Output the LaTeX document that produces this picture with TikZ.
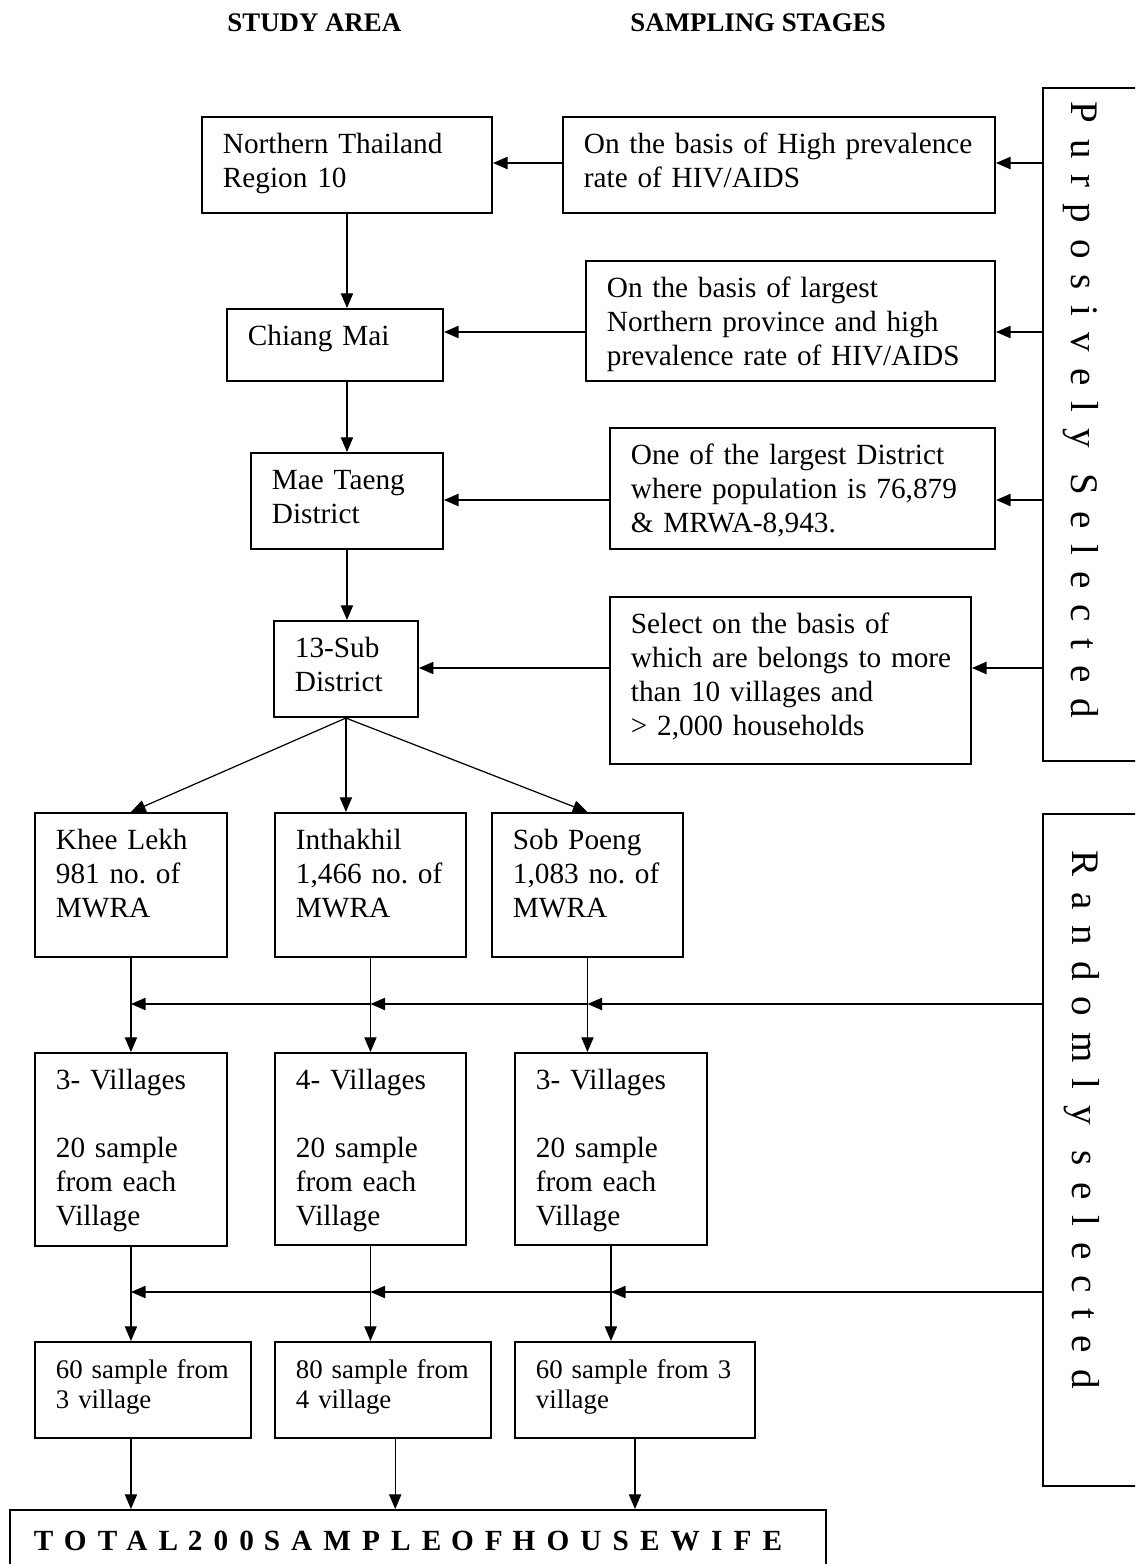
\documentclass[tikz,border=0pt]{standalone}
\usepackage{fontspec}
\setmainfont{Liberation Serif}
\usepackage{tikz}
\usetikzlibrary{arrows.meta}

\begin{document}
\begin{tikzpicture}[
  x=0.41pt, y=-0.41pt,
  box/.style={draw, line width=0.8pt, anchor=north west, align=left,
    inner xsep=8.6pt, inner ysep=7pt, text height=8pt,
    font=\fontsize{12}{13.9}\selectfont\frenchspacing},
  small/.style={font=\fontsize{11}{12.3}\selectfont\frenchspacing},
  side/.style={draw, line width=0.8pt, anchor=north west, inner sep=0pt,
    minimum width=44.3pt},
  vtext/.style={anchor=base west, rotate=-90, inner sep=0pt,
    font=\fontsize{16}{19}\selectfont\addfontfeature{LetterSpace=41}},
  head/.style={anchor=base west, inner sep=0pt,
    font=\fontsize{11}{13}\selectfont\bfseries},
  arr/.style={-{Triangle[length=6pt,width=5pt]}, line width=0.5pt},
  harr/.style={arr, line width=0.7pt}
]
\clip (0,0) rectangle (1135,1564);

\node[head] (hstudy) at (227,32) {STUDY AREA};
\node[head] (hstage) at (630,32) {SAMPLING STAGES};

% study area
\node[box, text width=101.7pt, text depth=17.4pt] (nt) at (201,116) {Northern Thailand\\Region 10};
\node[box, text width=71.4pt, text depth=7.5pt] (cm) at (226,308) {Chiang Mai};
\node[box, text width=61.5pt, text depth=17.4pt] (mt) at (250,452) {Mae Taeng\\District};
\node[box, text width=41.8pt, text depth=17.4pt] (sd) at (273,620) {13-Sub\\District};

% sampling stages
\node[box, text width=159.9pt, text depth=17.4pt] (c1) at (562,116) {On the basis of High prevalence\\rate of HIV/AIDS};
\node[box, text width=150.5pt, text depth=27.2pt] (c2) at (585,260) {On the basis of largest\\Northern province and high\\prevalence rate of HIV/AIDS};
\node[box, text width=140.7pt, text depth=27.6pt] (c3) at (609,427) {One of the largest District\\where population is 76,879\\\& MRWA-8,943.};
\node[box, text width=130.8pt, text depth=46.5pt] (c4) at (609,596) {Select on the basis of\\\mbox{which are belongs to more}\\than 10 villages and\\> 2,000 households};

\node[side, minimum height=275.9pt] (purp) at (1042,87) {};
\node[vtext] (purptxt) at (1071,101) {Purposively Selected};
\node[side, minimum height=275.5pt] (rand) at (1042,813) {};
\node[vtext] (randtxt) at (1072,850) {Randomly selected};

% sub districts
\node[box, text width=61.5pt, text depth=37pt] (k1) at (34,812) {Khee Lekh\\981 no. of\\MWRA};
\node[box, text width=61.1pt, text depth=37pt] (i1) at (274,812) {Inthakhil\\\mbox{1,466 no. of}\\MWRA};
\node[box, text width=61.1pt, text depth=37pt] (s1) at (491,812) {Sob Poeng\\\mbox{1,083 no. of}\\MWRA};

% villages
\node[box, text width=61.5pt, text depth=57.1pt] (k2) at (34,1052) {3- Villages\\[13.9pt]20 sample\\from each\\Village};
\node[box, text width=61.1pt, text depth=56.7pt] (i2) at (274,1052) {4- Villages\\[13.9pt]20 sample\\from each\\Village};
\node[box, text width=61.5pt, text depth=56.7pt] (s2) at (514,1052) {3- Villages\\[13.9pt]20 sample\\from each\\Village};

% samples
\node[box, small, text width=71.4pt, text depth=17.4pt] (k3) at (34,1341) {60 sample from\\3 village};
\node[box, small, text width=71.4pt, text depth=17.4pt] (i3) at (274,1341) {80 sample from\\4 village};
\node[box, small, text width=81.2pt, text depth=17.4pt] (s3) at (514,1341) {\mbox{60 sample from 3}\\village};

\node[box, inner xsep=9.8pt, text height=9.8pt, text width=315pt, text depth=12pt,
  font=\fontsize{12}{14}\selectfont\bfseries\addfontfeature{LetterSpace=38}] (tot) at (9,1509)
  {\mbox{TOTAL 200 SAMPLE OF HOUSEWIFE}};

\coordinate (r1) at (0,163);
\coordinate (r2) at (0,332);
\coordinate (r3) at (0,500);
\coordinate (r4) at (0,668);
\coordinate (r5) at (0,1004);
\coordinate (r6) at (0,1292);

\draw[harr] (purp.west |- r1) -- (c1.east |- r1);
\draw[harr] (c1.west |- r1) -- (nt.east |- r1);
\draw[harr] (purp.west |- r2) -- (c2.east |- r2);
\draw[harr] (c2.west |- r2) -- (cm.east |- r2);
\draw[harr] (purp.west |- r3) -- (c3.east |- r3);
\draw[harr] (c3.west |- r3) -- (mt.east |- r3);
\draw[harr] (purp.west |- r4) -- (c4.east |- r4);
\draw[harr] (c4.west |- r4) -- (sd.east |- r4);

\draw[arr] (nt.south) -- (nt.south |- cm.north);
\draw[arr] (nt.south |- cm.south) -- (nt.south |- mt.north);
\draw[arr] (mt.south) -- (mt.south |- sd.north);
\draw[arr] (sd.south) -- (k1.north);
\draw[arr] (sd.south) -- (sd.south |- i1.north);
\draw[arr] (sd.south) -- (s1.north);

\draw[arr] (k1.south) -- (k2.north);
\draw[arr] (i1.south) -- (i2.north);
\draw[arr] (s1.south) -- (s1.south |- s2.north);
\draw[harr] (rand.west |- r5) -- (s1.south |- r5);
\draw[harr] (s1.south |- r5) -- (i1.south |- r5);
\draw[harr] (i1.south |- r5) -- (k1.south |- r5);

\draw[arr] (k2.south) -- (k2.south |- k3.north);
\draw[arr] (i2.south) -- (i2.south |- i3.north);
\draw[arr] (s2.south) -- (s2.south |- s3.north);
\draw[harr] (rand.west |- r6) -- (s2.south |- r6);
\draw[harr] (s2.south |- r6) -- (i2.south |- r6);
\draw[harr] (i2.south |- r6) -- (k2.south |- r6);

\draw[arr] (k2.south |- k3.south) -- (k2.south |- tot.north);
\draw[arr] ([xshift=5pt]i3.south) -- ([xshift=5pt]i3.south |- tot.north);
\draw[arr] (s3.south) -- (s3.south |- tot.north);
\end{tikzpicture}
\end{document}
